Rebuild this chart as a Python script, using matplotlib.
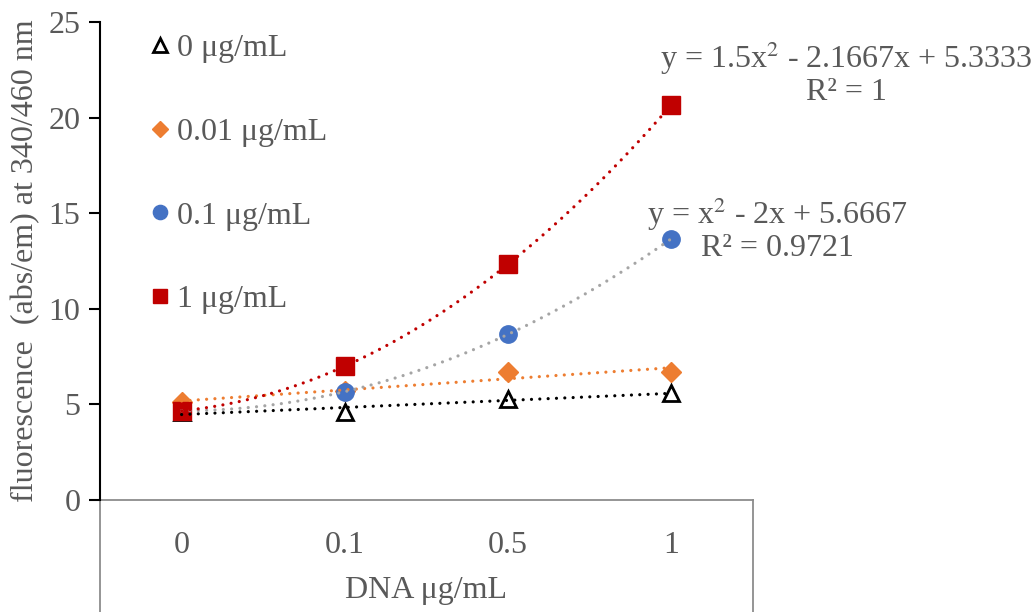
import numpy as np
import matplotlib.pyplot as plt
from matplotlib.lines import Line2D

plt.rcParams['font.family'] = ['Liberation Serif', 'DejaVu Serif']
plt.rcParams['mathtext.fontset'] = 'stix'

# DNA concentrations on the category axis
x_labels = ['0', '0.1', '0.5', '1']

# fluorescence readings for each probe concentration
conc_0 = [4.6, 4.6, 5.3, 5.6]
conc_001 = [5.1, 5.7, 6.7, 6.7]
conc_01 = [4.67, 5.67, 8.67, 13.67]
conc_1 = [4.67, 7.0, 12.33, 20.67]

# polynomial trendline coefficients (highest power first)
trend_01 = [1.0, -2.0, 5.6667]
r2_01 = 0.9721
trend_1 = [1.5, -2.1667, 5.3333]
r2_1 = 1

text_col = '#595959'
fs = 23
x = np.arange(1, len(x_labels) + 1)

fig = plt.figure(figsize=(10.35, 6.12), dpi=100)
ax = fig.add_axes([100 / 1035, 1 - 500 / 612, 653 / 1035, 478 / 612])

series = [
    (conc_0, '0 μg/mL', dict(marker='^', mfc='white', mec='black', mew=2, ms=12), 'black', None),
    (conc_001, '0.01 μg/mL', dict(marker='D', color='#ED7D31', ms=10), '#ED7D31', None),
    (conc_01, '0.1 μg/mL', dict(marker='o', color='#4472C4', ms=12.5), '#A5A5A5', trend_01),
    (conc_1, '1 μg/mL', dict(marker='s', color='#C00000', ms=12.5), '#C00000', trend_1),
]

xs = np.linspace(1, 4, 200)
handles = []
for vals, lab, mk, tcol, coef in series:
    ax.plot(x, vals, linestyle='none', zorder=3, **mk)
    if coef is None:
        coef = np.polyfit(x, vals, 1)
    ax.plot(xs, np.polyval(coef, xs), color=tcol, lw=2.3,
            dashes=(0.01, 2.6), dash_capstyle='round', zorder=4)
    small = dict(mk)
    small['ms'] = mk['ms'] * 0.82
    handles.append(Line2D([], [], linestyle='none', label=lab, **small))

# trendline equations
ax.text(5.07, 22.3, 'y = 1.5x$^2$ - 2.1667x + 5.3333\nR² = %g' % r2_1,
        ha='center', va='center', fontsize=fs, color=text_col, linespacing=1.05)
ax.text(4.65, 14.15, 'y = x$^2$ - 2x + 5.6667\nR² = %.4f' % r2_01,
        ha='center', va='center', fontsize=fs, color=text_col, linespacing=1.05)

ax.set_xlim(0.5, 4.5)
ax.set_ylim(0, 25)
ax.set_yticks(range(0, 26, 5))
ax.set_xticks(x)
ax.set_xticklabels(x_labels)
ax.tick_params(axis='x', length=0, pad=22, labelsize=fs, labelcolor=text_col)
ax.tick_params(axis='y', length=8, width=1.5, direction='out', pad=6,
               labelsize=fs, labelcolor=text_col)

for s in ['top', 'right']:
    ax.spines[s].set_visible(False)
ax.spines['left'].set_linewidth(1.5)
ax.spines['left'].set_color('black')
ax.spines['bottom'].set_color('#8C8C8C')
ax.spines['bottom'].set_linewidth(1.3)
ax.spines['left'].set_zorder(5)

# box lines under the category axis
for xv in [0.5, 4.5]:
    ax.plot([xv, xv], [0, -7], color='#8C8C8C', lw=1.3, clip_on=False, zorder=2)

ax.set_ylabel('fluorescence  (abs/em) at 340/460 nm', fontsize=fs, color=text_col, labelpad=6)
ax.set_xlabel('DNA μg/mL', fontsize=fs, color=text_col, labelpad=12)

leg = ax.legend(handles=handles, loc='upper left', bbox_to_anchor=(0.074, 0.975),
                frameon=False, fontsize=fs, labelspacing=1.7, handlelength=0.7,
                handletextpad=0.2, borderpad=0, borderaxespad=0)
for t in leg.get_texts():
    t.set_color(text_col)

fig.savefig('out.png', dpi=100)
